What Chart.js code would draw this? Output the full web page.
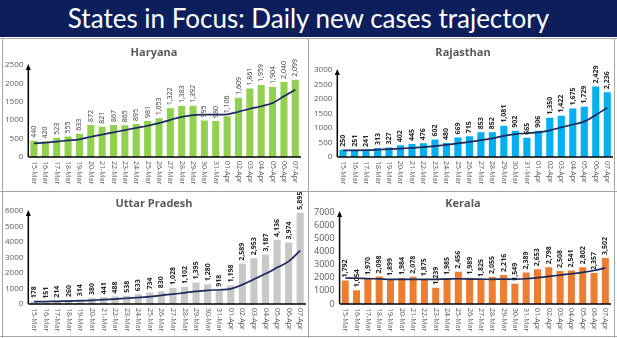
<!DOCTYPE html>
<html>
<head>
<meta charset="utf-8">
<script src="https://cdn.jsdelivr.net/npm/chart.js@4.4.1/dist/chart.umd.min.js"></script>
<style>
  html, body { margin: 0; padding: 0; background: #ffffff; }
  #wrap { position: relative; width: 617px; height: 338px; overflow: hidden; background: #fff; }
  #banner { position: absolute; left: 0; top: 0; width: 617px; height: 37px; background: #0c1f5c;
    color: #fff; font-family: Lato, "Open Sans", sans-serif; font-size: 26px; line-height: 37px; text-align: center; }
  .panel { position: absolute; }
  .line { position: absolute; background: #a6a6a6; }
</style>
</head>
<body>
<div id="wrap">
  <div id="banner">States in Focus: Daily new cases trajectory</div>
  <canvas id="c1" class="panel" style="left:0;top:38px;width:308px;height:153px" width="308" height="153"></canvas>
  <canvas id="c2" class="panel" style="left:309px;top:38px;width:308px;height:153px" width="308" height="153"></canvas>
  <canvas id="c3" class="panel" style="left:0;top:192px;width:308px;height:145px" width="308" height="145"></canvas>
  <canvas id="c4" class="panel" style="left:309px;top:192px;width:308px;height:145px" width="308" height="145"></canvas>
  <div class="line" style="left:0;top:38px;width:617px;height:1px"></div>
  <div class="line" style="left:0;top:191px;width:617px;height:1px"></div>
  <div class="line" style="left:0;top:336px;width:617px;height:1px"></div>
  <div class="line" style="left:308px;top:38px;width:1px;height:300px"></div>
  <div class="line" style="left:2px;top:38px;width:1px;height:300px"></div>
  <div class="line" style="left:614px;top:38px;width:1px;height:300px"></div>
</div>
<script>
const dates = ['15-Mar','16-Mar','17-Mar','18-Mar','19-Mar','20-Mar','21-Mar','22-Mar','23-Mar','24-Mar','25-Mar','26-Mar','27-Mar','28-Mar','29-Mar','30-Mar','31-Mar','01-Apr','02-Apr','03-Apr','04-Apr','05-Apr','06-Apr','07-Apr'];

const haryanaCases = [440,420,523,555,633,872,821,867,865,895,981,1053,1322,1383,1392,995,980,1106,1609,1861,1959,1904,2040,2099];
const haryanaTrend = [370,390,420,450,480,550,610,670,730,790,850,920,1010,1090,1140,1150,1150,1160,1230,1310,1380,1470,1650,1830];

const rajasthanCases = [250,251,241,313,327,402,445,476,602,480,669,715,853,852,1081,902,665,906,1350,1422,1675,1729,2429,2236];
const rajasthanTrend = [230,230,235,250,270,290,315,340,375,420,470,520,580,640,730,790,820,850,920,1020,1120,1220,1450,1700];

const upCases = [178,151,214,260,314,380,441,488,538,633,734,830,1028,1102,1395,1280,918,1198,2589,2953,3187,4136,3974,5895];
const upTrend = [150,160,170,190,210,240,280,320,370,420,480,560,640,720,810,880,920,980,1250,1600,1950,2350,2750,3450];

const keralaCases = [1792,1054,1970,2098,1899,1984,2078,1875,1239,1985,2456,1989,1825,2055,2216,1549,2389,2653,2798,2508,2541,2802,2357,3502];
const keralaTrend = [1980,1960,1930,1910,1880,1870,1870,1870,1880,1900,1920,1900,1890,1880,1900,1880,1920,2000,2100,2200,2300,2400,2550,2750];

const fmt = v => v.toLocaleString('en-US');

const decor = {
  id: 'decor',
  afterDatasetsDraw(chart, args, o) {
    const ctx = chart.ctx;
    const x = chart.scales.x, y = chart.scales.y;
    const meta = chart.getDatasetMeta(1);
    ctx.save();
    ctx.fillStyle = o.labelColor;
    ctx.font = o.labelFont;
    ctx.textAlign = 'left';
    ctx.textBaseline = 'middle';
    meta.data.forEach((bar, i) => {
      ctx.save();
      ctx.translate(bar.x, bar.y - 3);
      ctx.rotate(-Math.PI / 2);
      ctx.fillText(fmt(chart.data.datasets[1].data[i]), 0, 0);
      ctx.restore();
    });
    ctx.restore();
    ctx.save();
    ctx.fillStyle = '#595959';
    ctx.font = o.xFont;
    ctx.textAlign = 'left';
    ctx.textBaseline = 'middle';
    chart.data.labels.forEach((lab, i) => {
      const px = x.getPixelForTick(i);
      ctx.save();
      ctx.translate(px, x.top + 4);
      ctx.rotate(Math.PI / 2);
      ctx.fillText(lab, 0, 0);
      ctx.restore();
    });
    ctx.restore();
    ctx.save();
    ctx.strokeStyle = '#000';
    ctx.fillStyle = '#000';
    ctx.lineWidth = 1.5;
    ctx.beginPath();
    ctx.moveTo(y.right, y.bottom);
    ctx.lineTo(y.right, y.top + 3);
    ctx.stroke();
    ctx.beginPath();
    ctx.moveTo(y.right, y.top - 1);
    ctx.lineTo(y.right - 2.5, y.top + 5);
    ctx.lineTo(y.right + 2.5, y.top + 5);
    ctx.closePath();
    ctx.fill();
    ctx.beginPath();
    ctx.moveTo(x.left, x.top);
    ctx.lineTo(x.right, x.top);
    ctx.stroke();
    ctx.restore();
    ctx.save();
    ctx.fillStyle = '#595959';
    ctx.font = 'bold 11px "Open Sans", sans-serif';
    ctx.textAlign = 'center';
    ctx.textBaseline = 'middle';
    ctx.fillText(o.title, chart.width / 2 + o.titleDx, o.titleY);
    ctx.restore();
  }
};

function makeChart(id, cases, trend, color, cfg) {
  return new Chart(document.getElementById(id), {
    data: {
      labels: dates,
      datasets: [
        { type: 'line', data: trend, borderColor: '#1b2a5c', borderWidth: 1.7, pointRadius: 0, tension: 0.4, order: 0 },
        { type: 'bar', data: cases, backgroundColor: color, barPercentage: 0.62, categoryPercentage: 1.0, order: 1 }
      ]
    },
    options: {
      responsive: false,
      animation: false,
      layout: { padding: { top: cfg.top, bottom: cfg.bottom, left: cfg.left, right: cfg.right } },
      plugins: {
        legend: { display: false },
        tooltip: { enabled: false },
        title: { display: false },
        decor: cfg.decor
      },
      scales: {
        x: {
          grid: { display: false, drawTicks: false },
          border: { display: false },
          ticks: { display: false }
        },
        y: {
          min: 0, max: cfg.max,
          grid: { display: false, drawTicks: false },
          border: { display: false },
          ticks: { stepSize: cfg.step, autoSkip: false, color: '#595959', font: { family: '"Open Sans", sans-serif', size: cfg.yFontSize }, padding: 5, callback: v => String(v) }
        }
      }
    },
    plugins: [decor]
  });
}

makeChart('c1', haryanaCases, haryanaTrend, '#92d050', {
  max: 2500, step: 500, top: 27, bottom: 34, left: 0, right: 7, yFontSize: 8,
  decor: { title: 'Haryana', titleY: 15, titleDx: 0, labelColor: '#404040', labelFont: '7px "Open Sans", sans-serif', xFont: '7px "Open Sans", sans-serif' }
});
makeChart('c2', rajasthanCases, rajasthanTrend, '#00b0f0', {
  max: 3000, step: 500, top: 32, bottom: 34, left: 0, right: 4, yFontSize: 8,
  decor: { title: 'Rajasthan', titleY: 15, titleDx: 0, labelColor: '#262626', labelFont: 'bold 7px "Open Sans", sans-serif', xFont: '7px "Open Sans", sans-serif' }
});
makeChart('c3', upCases, upTrend, '#c8c8c8', {
  max: 6000, step: 1000, top: 19, bottom: 33, left: 0, right: 2, yFontSize: 8,
  decor: { title: 'Uttar Pradesh', titleY: 12, titleDx: 0, labelColor: '#262626', labelFont: 'bold 7px "Open Sans", sans-serif', xFont: '7px "Open Sans", sans-serif' }
});
makeChart('c4', keralaCases, keralaTrend, '#ed7d31', {
  max: 7000, step: 1000, top: 20, bottom: 33, left: 0, right: 6, yFontSize: 9,
  decor: { title: 'Kerala', titleY: 12, titleDx: 0, labelColor: '#262626', labelFont: 'bold 7px "Open Sans", sans-serif', xFont: '7px "Open Sans", sans-serif' }
});
</script>
</body>
</html>
